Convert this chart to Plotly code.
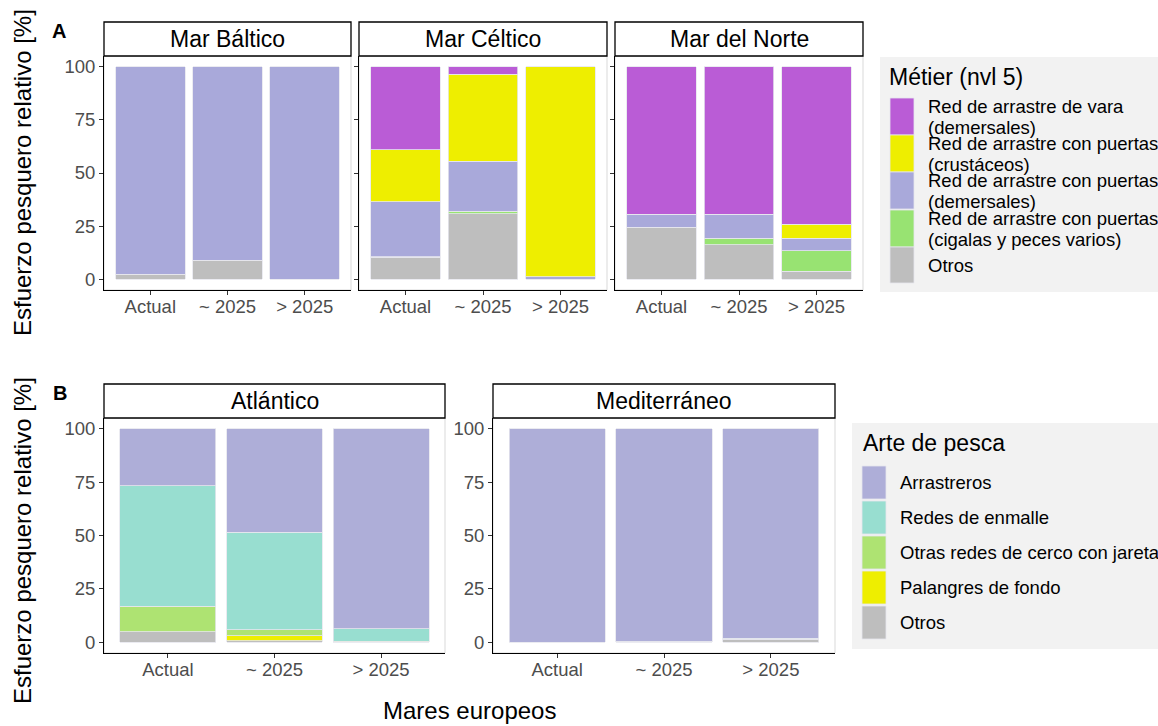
import plotly.graph_objects as go

W, H = 1158, 726
FONT = "Liberation Sans, Arial, sans-serif"

periods = ["Actual", "~ 2025", "> 2025"]

# Panel A: Métier (nvl 5)
metier_names = [
    "Red de arrastre de vara<br>(demersales)",
    "Red de arrastre con puertas<br>(crustáceos)",
    "Red de arrastre con puertas<br>(demersales)",
    "Red de arrastre con puertas<br>(cigalas y peces varios)",
    "Otros",
]
metier_colors = ["#BA5CD6", "#EEEE00", "#A9A9DA", "#98E372", "#BEBEBE"]
seas_A = ["Mar Báltico", "Mar Céltico", "Mar del Norte"]
baltico_vara = [0, 0, 0]
baltico_crust = [0, 0, 0]
baltico_dem = [97.5, 91.0, 100]
baltico_cig = [0, 0, 0]
baltico_otros = [2.5, 9.0, 0]
celtico_vara = [39.0, 3.6, 0]
celtico_crust = [24.4, 40.9, 98.7]
celtico_dem = [25.9, 23.4, 1.3]
celtico_cig = [0.3, 1.3, 0]
celtico_otros = [10.4, 30.8, 0]
norte_vara = [69.3, 69.3, 74.1]
norte_crust = [0.2, 0.2, 6.6]
norte_dem = [6.0, 11.2, 5.8]
norte_cig = [0, 3.1, 9.6]
norte_otros = [24.5, 16.2, 3.9]

# Panel B: Arte de pesca
arte_names = ["Arrastreros", "Redes de enmalle", "Otras redes de cerco con jareta",
              "Palangres de fondo", "Otros"]
arte_colors = ["#AEAED8", "#98DED0", "#AEE372", "#EEEE00", "#BEBEBE"]
seas_B = ["Atlántico", "Mediterráneo"]
atl_arr = [26.6, 48.5, 93.7]
atl_enm = [56.4, 45.7, 5.7]
atl_otras = [12.0, 2.7, 0]
atl_pal = [0, 2.3, 0.6]
atl_otros = [5.0, 0.8, 0]
med_arr = [100, 99.5, 98.0]
med_enm = [0, 0, 0.5]
med_otras = [0, 0, 0]
med_pal = [0, 0, 0]
med_otros = [0, 0.5, 1.5]

panels_A = [
    [baltico_vara, baltico_crust, baltico_dem, baltico_cig, baltico_otros],
    [celtico_vara, celtico_crust, celtico_dem, celtico_cig, celtico_otros],
    [norte_vara, norte_crust, norte_dem, norte_cig, norte_otros],
]
panels_B = [
    [atl_arr, atl_enm, atl_otras, atl_pal, atl_otros],
    [med_arr, med_enm, med_otras, med_pal, med_otros],
]

TICK = 18.5
STRIP = 23
TITLE = 24
LEGT = 23
LEGX = 18.5


def px(x):
    return x / W


def py(y):
    return 1 - y / H


# panel pixel boxes (x0, x1, y0, y1)
boxes = [
    (104, 351, 56, 290), (359, 607, 56, 290), (615, 863, 56, 290),
    (104, 445, 418, 653), (493, 835, 418, 653),
]
strip_tops = [22, 22, 22, 384, 384]
titles = seas_A + seas_B
show_y = [True, False, False, True, True]

fig = go.Figure()

panel_data = [(p, metier_names, metier_colors) for p in panels_A] + \
             [(p, arte_names, arte_colors) for p in panels_B]

for i, (series, names, colors) in enumerate(panel_data):
    ax = "" if i == 0 else str(i + 1)
    # stack bottom-up: reverse order (Otros at bottom)
    for vals, name, col in reversed(list(zip(series, names, colors))):
        yv = [v if v > 0 else None for v in vals]
        fig.add_trace(go.Bar(
            x=periods, y=yv, name=name.replace("<br>", " "),
            marker=dict(color=col, line=dict(color="#E6E6EE", width=0.8)),
            xaxis="x" + ax, yaxis="y" + ax, showlegend=False,
        ))

shapes = []
annotations = []
layout = dict()
for i, (x0, x1, y0, y1) in enumerate(boxes):
    ax = "" if i == 0 else str(i + 1)
    layout["xaxis" + ax] = dict(
        domain=[px(x0), px(x1)], anchor="y" + ax, type="category",
        range=[-0.6, 2.6], showline=True, linecolor="black", linewidth=1,
        ticks="outside", ticklen=4, tickcolor="#333333", ticklabelstandoff=-4,
        tickfont=dict(size=TICK, color="#4D4D4D", family=FONT),
        showgrid=False, zeroline=False, fixedrange=True,
    )
    layout["yaxis" + ax] = dict(
        domain=[py(y1), py(y0)], anchor="x" + ax, range=[-5, 105],
        tickvals=[0, 25, 50, 75, 100], showticklabels=show_y[i],
        showline=True, linecolor="black", linewidth=1,
        ticks="outside", ticklen=4, tickcolor="#333333",
        tickfont=dict(size=TICK, color="#4D4D4D", family=FONT),
        showgrid=False, zeroline=False, fixedrange=True,
    )
    # light panel border
    shapes.append(dict(type="rect", xref="paper", yref="paper",
                       x0=px(x0), x1=px(x1), y0=py(y1), y1=py(y0),
                       line=dict(color="#D9D9D9", width=1), layer="below"))
    # strip
    st = strip_tops[i]
    shapes.append(dict(type="rect", xref="paper", yref="paper",
                       x0=px(x0), x1=px(x1), y0=py(y0), y1=py(st),
                       line=dict(color="black", width=1.3), fillcolor="white"))
    annotations.append(dict(text=titles[i], xref="paper", yref="paper",
                            x=px((x0 + x1) / 2), y=py((st + y0) / 2),
                            xanchor="center", yanchor="middle", showarrow=False,
                            font=dict(size=STRIP, color="black", family=FONT)))

# panel labels
annotations.append(dict(text="<b>A</b>", xref="paper", yref="paper", x=px(59), y=py(31),
                        xanchor="center", yanchor="middle", showarrow=False,
                        font=dict(size=20, color="black", family=FONT)))
annotations.append(dict(text="<b>B</b>", xref="paper", yref="paper", x=px(60), y=py(393),
                        xanchor="center", yanchor="middle", showarrow=False,
                        font=dict(size=20, color="black", family=FONT)))
# y titles
for yc in [173, 541]:
    annotations.append(dict(text="Esfuerzo pesquero relativo [%]", xref="paper", yref="paper",
                            x=px(22), y=py(yc), textangle=-90, xanchor="center",
                            yanchor="middle", showarrow=False,
                            font=dict(size=TITLE, color="black", family=FONT)))
# x title
annotations.append(dict(text="Mares europeos", xref="paper", yref="paper",
                        x=px(469), y=py(710), xanchor="center", yanchor="middle",
                        showarrow=False, font=dict(size=TITLE, color="black", family=FONT)))

# Legend A
shapes.append(dict(type="rect", xref="paper", yref="paper", x0=px(880), x1=px(1160),
                   y0=py(292), y1=py(57), fillcolor="#F2F2F2", line=dict(width=0),
                   layer="below"))
annotations.append(dict(text="Métier (nvl 5)", xref="paper", yref="paper", x=px(887),
                        y=py(77), xanchor="left", yanchor="middle", showarrow=False,
                        font=dict(size=LEGT, color="black", family=FONT)))
keyA = [(98, 135), (135, 172), (172, 209), (210, 247), (247, 283)]
for (k0, k1), name, col in zip(keyA, metier_names, metier_colors):
    shapes.append(dict(type="rect", xref="paper", yref="paper", x0=px(890), x1=px(914),
                       y0=py(k1), y1=py(k0), fillcolor=col,
                       line=dict(color="#E6E6EE", width=0.8)))
    lines = name.split("<br>")
    yc = (k0 + k1) / 2
    offs = [0] if len(lines) == 1 else [-10.5, 10.5]
    for ln, off in zip(lines, offs):
        annotations.append(dict(text=ln, xref="paper", yref="paper", x=px(927),
                                y=py(yc + off), xanchor="left", yanchor="middle",
                                align="left", showarrow=False, borderpad=0,
                                font=dict(size=LEGX, color="black", family=FONT)))

# Legend B
shapes.append(dict(type="rect", xref="paper", yref="paper", x0=px(852), x1=px(1160),
                   y0=py(649), y1=py(423), fillcolor="#F2F2F2", line=dict(width=0),
                   layer="below"))
annotations.append(dict(text="Arte de pesca", xref="paper", yref="paper", x=px(861),
                        y=py(443), xanchor="left", yanchor="middle", showarrow=False,
                        font=dict(size=LEGT, color="black", family=FONT)))
keyB = [(466, 499), (501, 534), (536, 569), (571, 604), (606, 639)]
for (k0, k1), name, col in zip(keyB, arte_names, arte_colors):
    shapes.append(dict(type="rect", xref="paper", yref="paper", x0=px(862), x1=px(886),
                       y0=py(k1), y1=py(k0), fillcolor=col,
                       line=dict(color="#E6E6EE", width=0.8)))
    annotations.append(dict(text=name, xref="paper", yref="paper", x=px(898),
                            y=py((k0 + k1) / 2), xanchor="left", yanchor="middle",
                            align="left", showarrow=False,
                            font=dict(size=LEGX, color="black", family=FONT)))

fig.update_layout(
    width=W, height=H, margin=dict(l=0, r=0, t=0, b=0),
    paper_bgcolor="white", plot_bgcolor="white",
    barmode="stack", bargap=0.1, showlegend=False,
    font=dict(family=FONT, color="black"),
    shapes=shapes, annotations=annotations, **layout,
)

fig.write_html("out.html")
